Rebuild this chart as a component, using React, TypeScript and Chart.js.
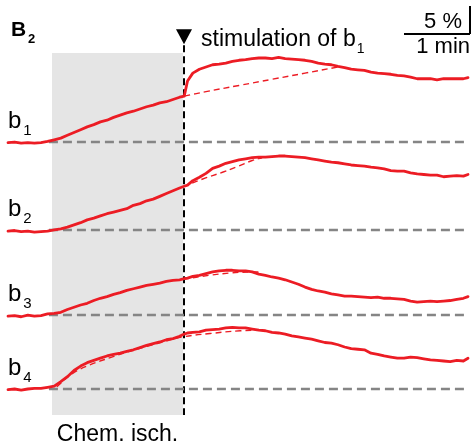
import React, { useEffect, useRef } from "react";
import { Chart, registerables } from "chart.js";

Chart.register(...registerables);

// time axis in minutes (shared by all traces)
const times = [
  0.0, 0.1, 0.2, 0.3, 0.4, 0.5, 0.6, 0.7, 0.8, 0.9,
  1.0, 1.1, 1.2, 1.3, 1.4, 1.5, 1.6, 1.7, 1.8, 1.9,
  2.0, 2.1, 2.2, 2.3, 2.4, 2.5, 2.6, 2.67, 2.72, 2.8,
  2.9, 3.0, 3.1, 3.2, 3.3, 3.4, 3.5, 3.6, 3.7, 3.8,
  3.9, 4.0, 4.1, 4.2, 4.3, 4.4, 4.5, 4.6, 4.7, 4.8,
  4.9, 5.0, 5.1, 5.2, 5.3, 5.4, 5.5, 5.6, 5.7, 5.8,
  5.9, 6.0, 6.1, 6.2, 6.3, 6.4, 6.5, 6.6, 6.7, 6.8,
  6.9, 6.97,
];

// ΔF/F (%) of each bouton, relative to its own baseline
const b1Values = [
  -0.1, 0.0, -0.2, -0.1, -0.2, -0.1, 0.1, 0.4, 0.7, 1.2,
  1.7, 2.2, 2.7, 3.1, 3.6, 3.9, 4.4, 4.8, 5.2, 5.5,
  5.9, 6.3, 6.6, 7.0, 7.2, 7.6, 8.0, 8.2, 10.9, 12.3,
  13.0, 13.4, 13.8, 13.9, 14.1, 14.4, 14.6, 14.7, 14.9, 15.0,
  15.0, 14.9, 15.1, 14.9, 14.8, 14.7, 14.6, 14.4, 14.1, 13.9,
  13.8, 13.5, 13.3, 13.0, 12.9, 12.8, 12.5, 12.3, 12.2, 12.1,
  11.9, 11.8, 11.6, 11.3, 11.3, 11.3, 11.1, 11.3, 11.3, 11.3,
  11.3, 11.5,
];
const b2Values = [
  -0.2, -0.1, -0.3, -0.2, -0.4, -0.3, -0.2, 0.0, 0.2, 0.5,
  0.9, 1.3, 1.8, 2.1, 2.5, 2.9, 3.2, 3.5, 3.8, 4.4,
  4.7, 5.2, 5.5, 6.0, 6.5, 7.0, 7.5, 7.8, 8.0, 8.8,
  9.4, 10.1, 11.0, 11.4, 11.9, 12.2, 12.5, 12.7, 12.9, 13.0,
  13.0, 13.1, 13.2, 13.2, 13.1, 13.0, 12.9, 12.7, 12.5, 12.3,
  12.1, 12.0, 11.8, 11.6, 11.5, 11.4, 11.2, 11.1, 10.9, 10.6,
  10.5, 10.5, 10.2, 10.0, 9.9, 9.8, 9.8, 9.5, 9.6, 9.7,
  9.6, 9.9,
];
const b3Values = [
  -0.2, -0.1, -0.3, 0.0, -0.2, -0.1, 0.2, 0.3, 0.5, 1.0,
  1.4, 1.8, 2.1, 2.6, 3.0, 3.3, 3.7, 4.0, 4.4, 4.7,
  5.0, 5.3, 5.5, 5.7, 6.0, 6.2, 6.3, 6.5, 6.6, 6.9,
  7.1, 7.4, 7.7, 7.9, 8.0, 8.0, 7.9, 7.9, 7.7, 7.3,
  7.1, 6.8, 6.6, 6.3, 5.9, 5.5, 5.0, 4.6, 4.3, 4.1,
  3.8, 3.6, 3.4, 3.4, 3.3, 3.2, 3.1, 3.2, 3.0, 3.0,
  2.9, 2.8, 2.5, 2.3, 2.4, 2.5, 2.4, 2.5, 2.6, 2.8,
  3.0, 3.3,
];
const b4Values = [
  -0.1, 0.0, -0.2, 0.0, 0.1, 0.1, 0.3, 0.5, 1.3, 2.2,
  3.3, 4.1, 4.7, 5.1, 5.5, 5.9, 6.2, 6.4, 6.7, 7.0,
  7.4, 7.8, 8.1, 8.4, 8.8, 9.0, 9.4, 9.8, 10.0, 10.1,
  10.2, 10.5, 10.6, 10.7, 10.9, 11.0, 10.9, 10.9, 10.7, 10.5,
  10.4, 10.1, 10.0, 9.8, 9.5, 9.3, 9.1, 8.9, 8.6, 8.3,
  8.2, 7.9, 7.5, 7.2, 7.1, 7.0, 6.4, 6.2, 5.9, 5.7,
  5.5, 5.5, 5.7, 5.6, 5.4, 5.2, 5.1, 5.0, 4.9, 5.1,
  5.0, 5.5,
];

// fitted extrapolations (dashed red)
const fitB1Times = [2.67, 3.0, 3.5, 4.0, 4.5, 5.0];
const fitB1Values = [8.2, 9.0, 10.1, 11.2, 12.3, 13.4];
const fitB2Times = [2.65, 2.95, 3.25, 3.45, 3.7, 3.85];
const fitB2Values = [7.7, 9.1, 10.3, 11.2, 12.4, 12.9];
const fitB3Times = [2.65, 3.05, 3.35, 3.65, 3.8];
const fitB3Values = [6.4, 7.1, 7.5, 7.7, 7.7];
const fitB4Times = [0.74, 0.98, 1.24, 1.55, 1.89, 2.26, 2.65, 3.06, 3.52, 3.89];
const fitB4Values = [0.4, 2.8, 4.3, 5.6, 6.9, 8.1, 9.3, 9.9, 10.4, 10.5];

const traceLabels = ["1", "2", "3", "4"];
const traceOffsets = [44.1, 28.4, 13.2, 0];

const chemStart = 0.667;
const chemEnd = 2.652;
const stimTime = 2.667;
const baselineStart = 0.62;
const baselineEnd = 6.93;
const scaleBarEnd = 7.0;
const scaleBarBottom = 63.4;
const scaleBarMinutes = 1;
const scaleBarPercent = 5;

const xMin = -0.1212;
const xMax = 7.0606;
const yMin = -10;
const yMax = 69.46;
const bandTop = 60.0;
const bandBottom = -4.64;
const stimTop = 61.4;

const RED = "#ec1c24";
const FONT = "'Liberation Sans', Arial, Helvetica, sans-serif";

const traces = [b1Values, b2Values, b3Values, b4Values];
const fits = [
  [fitB1Times, fitB1Values],
  [fitB2Times, fitB2Values],
  [fitB3Times, fitB3Values],
  [fitB4Times, fitB4Values],
];

const overlay = {
  id: "overlay",
  beforeDatasetsDraw(chart: any) {
    const { ctx } = chart;
    const x = chart.scales.x;
    const y = chart.scales.y;
    ctx.save();
    const bx0 = x.getPixelForValue(chemStart);
    const bx1 = x.getPixelForValue(chemEnd);
    const by0 = y.getPixelForValue(bandTop);
    const by1 = y.getPixelForValue(bandBottom);
    ctx.fillStyle = "#e5e5e5";
    ctx.fillRect(bx0, by0, bx1 - bx0, by1 - by0);

    const sx = Math.round(x.getPixelForValue(stimTime));
    ctx.strokeStyle = "#000";
    ctx.lineWidth = 2;
    ctx.setLineDash([7, 4]);
    ctx.beginPath();
    ctx.moveTo(sx, y.getPixelForValue(stimTop));
    ctx.lineTo(sx, by1);
    ctx.stroke();
    ctx.restore();
  },
  afterDatasetsDraw(chart: any) {
    const { ctx } = chart;
    const x = chart.scales.x;
    const y = chart.scales.y;
    ctx.save();
    ctx.fillStyle = "#000";
    ctx.textBaseline = "alphabetic";

    // triangle marker
    const sx = Math.round(x.getPixelForValue(stimTime));
    const tTop = y.getPixelForValue(stimTop) - 16;
    ctx.beginPath();
    ctx.moveTo(sx - 8, tTop);
    ctx.lineTo(sx + 8, tTop);
    ctx.lineTo(sx, tTop + 15);
    ctx.closePath();
    ctx.fill();

    // B2 panel label
    ctx.font = `bold 21px ${FONT}`;
    ctx.textAlign = "left";
    ctx.fillText("B", 11, 36);
    ctx.font = `bold 13px ${FONT}`;
    ctx.fillText("2", 28, 43);

    // stimulation text
    ctx.font = `23px ${FONT}`;
    const st = "stimulation of b";
    const sxText = sx + 17;
    ctx.fillText(st, sxText, 46);
    const w = ctx.measureText(st).width;
    ctx.font = `14px ${FONT}`;
    ctx.fillText("1", sxText + w + 1, 53);

    // trace labels
    traceOffsets.forEach((off, i) => {
      const base = y.getPixelForValue(off);
      ctx.font = `24px ${FONT}`;
      ctx.fillText("b", 8, base - 14);
      const bw = ctx.measureText("b").width;
      ctx.font = `15px ${FONT}`;
      ctx.fillText(traceLabels[i], 8 + bw + 2, base - 7);
    });

    // chem. isch. label
    ctx.font = `23px ${FONT}`;
    ctx.textAlign = "center";
    const cx = (x.getPixelForValue(chemStart) + x.getPixelForValue(chemEnd)) / 2;
    ctx.fillText("Chem. isch.", cx, y.getPixelForValue(bandBottom) + 26);

    // scale bar
    const rx = x.getPixelForValue(scaleBarEnd);
    const lx = x.getPixelForValue(scaleBarEnd - scaleBarMinutes);
    const by = y.getPixelForValue(scaleBarBottom);
    const ty = y.getPixelForValue(scaleBarBottom + scaleBarPercent);
    ctx.strokeStyle = "#000";
    ctx.lineWidth = 2;
    ctx.setLineDash([]);
    ctx.beginPath();
    ctx.moveTo(lx, by);
    ctx.lineTo(rx, by);
    ctx.moveTo(rx, by);
    ctx.lineTo(rx, ty);
    ctx.stroke();
    ctx.textAlign = "right";
    ctx.font = `22px ${FONT}`;
    ctx.fillText(`${scaleBarPercent} %`, rx - 8, by - 6);
    ctx.fillText(`${scaleBarMinutes} min`, rx, by + 19);
    ctx.restore();
  },
};

export default function App() {
  const ref = useRef<HTMLCanvasElement | null>(null);
  useEffect(() => {
    document.body.style.margin = "0";
    if (!ref.current) return;
    const datasets: any[] = [];
    traces.forEach((vals, i) => {
      datasets.push({
        data: times.map((t, k) => ({ x: t, y: vals[k] + traceOffsets[i] })),
        borderColor: RED,
        borderWidth: 2.8,
        pointRadius: 0,
        tension: 0,
        borderJoinStyle: "round",
        borderCapStyle: "round",
        order: 0,
      });
    });
    fits.forEach(([ft, fv], i) => {
      datasets.push({
        data: ft.map((t, k) => ({ x: t, y: fv[k] + traceOffsets[i] })),
        borderColor: RED,
        borderWidth: 1.4,
        borderDash: [6, 4],
        pointRadius: 0,
        tension: 0.4,
        order: 1,
      });
    });
    traceOffsets.forEach((off) => {
      datasets.push({
        data: [
          { x: baselineStart, y: off },
          { x: baselineEnd, y: off },
        ],
        borderColor: "#858585",
        borderWidth: 2.4,
        borderDash: [9, 5],
        pointRadius: 0,
        order: 2,
      });
    });

    const chart = new Chart(ref.current, {
      type: "line",
      data: { datasets },
      options: {
        animation: false,
        responsive: false,
        devicePixelRatio: 1,
        layout: { padding: 0 },
        scales: {
          x: { type: "linear", min: xMin, max: xMax, display: false },
          y: { type: "linear", min: yMin, max: yMax, display: false },
        },
        plugins: { legend: { display: false }, tooltip: { enabled: false } },
      },
      plugins: [overlay],
    } as any);
    return () => chart.destroy();
  }, []);
  return (
    <div style={{ position: "absolute", left: 0, top: 0, width: 474, height: 445 }}>
      <canvas ref={ref} width={474} height={445} />
    </div>
  );
}
